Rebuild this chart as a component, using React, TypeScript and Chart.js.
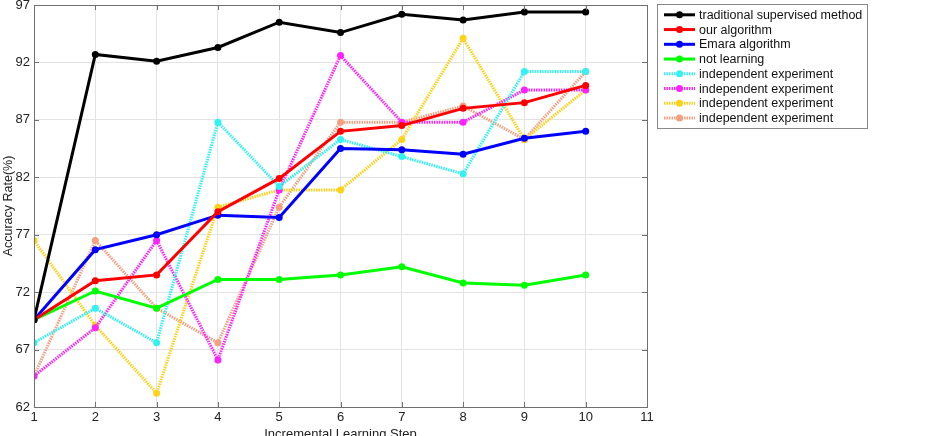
import React, { useEffect, useRef } from "react";
import { Chart, registerables } from "chart.js";

Chart.register(...registerables);

const steps = [1, 2, 3, 4, 5, 6, 7, 8, 9, 10];
const xTicks = [1, 2, 3, 4, 5, 6, 7, 8, 9, 10, 11];
const yTicks = [62, 67, 72, 77, 82, 87, 92, 97];

const traditional = [69.6, 92.7, 92.1, 93.3, 95.5, 94.6, 96.2, 95.7, 96.4, 96.4];
const ourAlgorithm = [69.6, 73.0, 73.5, 79.0, 81.9, 86.0, 86.5, 88.0, 88.5, 90.0];
const emara = [69.6, 75.7, 77.0, 78.7, 78.5, 84.5, 84.4, 84.0, 85.4, 86.0];
const notLearning = [69.6, 72.1, 70.6, 73.1, 73.1, 73.5, 74.2, 72.8, 72.6, 73.5];
const indep1 = [67.6, 70.6, 67.6, 86.8, 81.2, 85.3, 83.8, 82.3, 91.2, 91.2];
const indep2 = [64.7, 68.9, 76.5, 66.1, 80.9, 92.6, 86.8, 86.8, 89.6, 89.6];
const indep3 = [76.5, 69.1, 63.2, 79.4, 80.9, 80.9, 85.3, 94.1, 85.3, 89.6];
const indep4 = [64.7, 76.5, 70.6, 67.6, 79.4, 86.8, 86.8, 88.2, 85.3, 91.2];

const seriesNames = [
  "traditional supervised method",
  "our algorithm",
  "Emara algorithm",
  "not learning",
  "independent experiment",
  "independent experiment",
  "independent experiment",
  "independent experiment",
];
const seriesData = [traditional, ourAlgorithm, emara, notLearning, indep1, indep2, indep3, indep4];
const seriesColors = ["#000000", "#ff0000", "#0000ff", "#00ff00", "#33f2f2", "#ff22ff", "#ffd21a", "#f4a080"];
const seriesDotted = [false, false, false, false, true, true, true, true];

const FONT = "'Liberation Sans', Arial, sans-serif";

const framePlugin = {
  id: "frame",
  afterDatasetsDraw(chart: any) {
    const { ctx, chartArea } = chart;
    const { left, right, top, bottom } = chartArea;
    ctx.save();
    ctx.strokeStyle = "#707070";
    ctx.lineWidth = 1;
    ctx.strokeRect(left + 0.5, top + 0.5, right - left, bottom - top);
    const xs = chart.scales.x;
    const ys = chart.scales.y;
    ctx.beginPath();
    xTicks.forEach((v) => {
      const px = Math.round(xs.getPixelForValue(v)) + 0.5;
      ctx.moveTo(px, bottom);
      ctx.lineTo(px, bottom - 5);
      ctx.moveTo(px, top);
      ctx.lineTo(px, top + 5);
    });
    yTicks.forEach((v) => {
      const py = Math.round(ys.getPixelForValue(v)) + 0.5;
      ctx.moveTo(left, py);
      ctx.lineTo(left + 5, py);
      ctx.moveTo(right, py);
      ctx.lineTo(right - 5, py);
    });
    ctx.stroke();
    ctx.restore();
  },
  afterDraw(chart: any) {
    const { ctx } = chart;
    const bx = 657.5, by = 4.5, bw = 210, bh = 124;
    ctx.save();
    ctx.fillStyle = "#ffffff";
    ctx.fillRect(bx, by, bw, bh);
    ctx.strokeStyle = "#888888";
    ctx.lineWidth = 1;
    ctx.strokeRect(bx, by, bw, bh);
    ctx.font = `12.5px ${FONT}`;
    ctx.textBaseline = "middle";
    seriesNames.forEach((name, i) => {
      const y = 14.8 + i * 14.75;
      ctx.strokeStyle = seriesColors[i];
      ctx.lineWidth = 3;
      ctx.setLineDash(seriesDotted[i] ? [1.5, 1] : []);
      ctx.beginPath();
      ctx.moveTo(664, y);
      ctx.lineTo(695, y);
      ctx.stroke();
      ctx.setLineDash([]);
      ctx.fillStyle = seriesColors[i];
      ctx.beginPath();
      ctx.arc(679.5, y, 3.5, 0, Math.PI * 2);
      ctx.fill();
      ctx.fillStyle = "#111111";
      ctx.fillText(name, 699, y + 0.5);
    });
    ctx.restore();
  },
};

export default function App() {
  const canvasRef = useRef<HTMLCanvasElement | null>(null);

  useEffect(() => {
    const canvas = canvasRef.current;
    if (!canvas) return;
    const chart = new Chart(canvas, {
      type: "line",
      data: {
        datasets: seriesData.map((vals, i) => ({
          label: seriesNames[i],
          data: steps.map((s, j) => ({ x: s, y: vals[j] })),
          borderColor: seriesColors[i],
          backgroundColor: seriesColors[i],
          pointBackgroundColor: seriesColors[i],
          pointBorderColor: seriesColors[i],
          pointRadius: 3.5,
          pointBorderWidth: 0,
          borderWidth: 3,
          borderDash: seriesDotted[i] ? [1.5, 1] : [],
          tension: 0,
          fill: false,
        })),
      },
      options: {
        animation: false,
        responsive: false,
        maintainAspectRatio: false,
        layout: { padding: { top: 5, right: 301, left: 0, bottom: 0 } },
        plugins: {
          legend: { display: false },
          tooltip: { enabled: false },
        },
        scales: {
          x: {
            type: "linear",
            min: 1,
            max: 11,
            afterBuildTicks: (scale: any) => {
              scale.ticks = xTicks.map((v) => ({ value: v }));
            },
            afterFit: (scale: any) => {
              scale.height = 29;
              scale.paddingLeft = 0;
              scale.paddingRight = 0;
            },
            grid: { color: "#e3e3e3", drawTicks: false, lineWidth: 1 },
            border: { display: false },
            ticks: {
              padding: 3,
              color: "#222222",
              font: { family: FONT, size: 13 },
              maxRotation: 0,
              autoSkip: false,
            },
            title: {
              display: true,
              text: "Incremental Learning Step",
              color: "#222222",
              font: { family: FONT, size: 13 },
              padding: { top: 0, bottom: -6 },
            },
          },
          y: {
            type: "linear",
            min: 62,
            max: 97,
            afterBuildTicks: (scale: any) => {
              scale.ticks = yTicks.map((v) => ({ value: v }));
            },
            afterFit: (scale: any) => {
              scale.width = 34;
              scale.paddingTop = 0;
              scale.paddingBottom = 0;
            },
            grid: { color: "#e3e3e3", drawTicks: false, lineWidth: 1 },
            border: { display: false },
            ticks: {
              padding: 4,
              color: "#222222",
              font: { family: FONT, size: 13 },
              autoSkip: false,
            },
            title: {
              display: true,
              text: "Accuracy Rate(%)",
              color: "#222222",
              font: { family: FONT, size: 12.5 },
              padding: { top: 1, bottom: 0 },
            },
          },
        },
      },
      plugins: [framePlugin],
    });
    return () => chart.destroy();
  }, []);

  return (
    <div style={{ position: "fixed", left: 0, top: 0, width: 948, height: 436, background: "#ffffff" }}>
      <canvas ref={canvasRef} width={948} height={436} style={{ width: 948, height: 436, display: "block" }} />
    </div>
  );
}
